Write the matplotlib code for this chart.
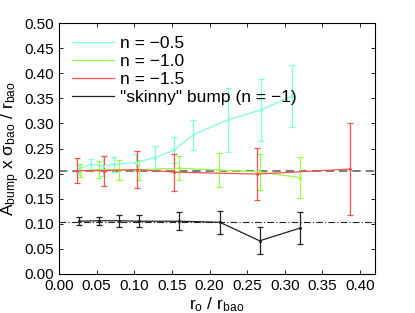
import numpy as np
import matplotlib
matplotlib.use('Agg')
from matplotlib import pyplot as plt
from matplotlib.lines import Line2D

plt.rcParams['font.family'] = ['Liberation Sans', 'DejaVu Sans']
plt.rcParams['mathtext.fontset'] = 'custom'
plt.rcParams['mathtext.rm'] = 'Liberation Sans'
plt.rcParams['mathtext.it'] = 'Liberation Sans'

# n = -0.5
x_a = [0.027, 0.043, 0.058, 0.073, 0.102, 0.128, 0.153, 0.178, 0.224, 0.268, 0.310]
y_a = [0.209, 0.219, 0.215, 0.219, 0.222, 0.232, 0.247, 0.277, 0.307, 0.327, 0.355]
e_a = [0.011, 0.011, 0.020, 0.015, 0.017, 0.023, 0.025, 0.029, 0.064, 0.062, 0.062]

# n = -1.0
x_b = [0.028, 0.0535, 0.080, 0.107, 0.160, 0.213, 0.267, 0.320]
y_b = [0.206, 0.208, 0.208, 0.208, 0.2105, 0.207, 0.203, 0.192]
e_b = [0.013, 0.017, 0.020, 0.020, 0.024, 0.034, 0.036, 0.041]

# n = -1.5
x_c = [0.0235, 0.060, 0.104, 0.153, 0.263, 0.386]
y_c = [0.206, 0.206, 0.208, 0.203, 0.199, 0.209]
e_c = [0.025, 0.030, 0.037, 0.037, 0.052, 0.092]

# skinny bump
x_d = [0.0265, 0.053, 0.080, 0.1065, 0.1595, 0.2135, 0.2666, 0.3196]
y_d = [0.105, 0.106, 0.106, 0.105, 0.105, 0.103, 0.066, 0.091]
e_d = [0.008, 0.008, 0.012, 0.012, 0.018, 0.023, 0.027, 0.032]

ref_a = 0.206
ref_d = 0.104

fig = plt.figure(figsize=(4.15, 3.13), dpi=100)
ax = fig.add_axes([0.142, 0.125, 0.762, 0.801])

ax.axhline(ref_a, color='#666666', ls=(0, (5, 3)), lw=1.2, zorder=1)
ax.axhline(ref_d, color='#222222', ls=(0, (6, 2, 1, 2)), lw=0.8, zorder=1)

series = [
    (x_a, y_a, e_a, '#80ffd8', 'n = \u22120.5'),
    (x_b, y_b, e_b, '#99ff44', 'n = \u22121.0'),
    (x_c, y_c, e_c, '#ff4f4f', 'n = \u22121.5'),
    (x_d, y_d, e_d, '#222222', '"skinny" bump (n = \u22121)'),
]
for x, y, e, c, lab in series:
    ax.errorbar(x, y, yerr=e, color=c, lw=0.9, elinewidth=0.9, capsize=2.5,
                capthick=0.9, marker='.', ms=2.5, label=lab, zorder=2)

ax.set_xlim(0, 0.42)
ax.set_ylim(0, 0.5)
ax.set_xticks(np.arange(0, 0.41, 0.05))
ax.set_yticks(np.arange(0, 0.51, 0.05))
ax.xaxis.set_major_formatter(matplotlib.ticker.FormatStrFormatter('%.2f'))
ax.yaxis.set_major_formatter(matplotlib.ticker.FormatStrFormatter('%.2f'))
ax.tick_params(direction='in', top=True, right=True, labelsize=11, length=3, width=0.6)
for s in ax.spines.values():
    s.set_linewidth(0.8)

ax.set_xlabel(r'$\mathregular{r_o\ /\ r_{bao}}$', fontsize=12.5, labelpad=2)
ax.set_ylabel(r'$\mathregular{A_{bump}\ x\ \sigma_{bao}\ /\ r_{bao}}$', fontsize=12.5, labelpad=2)

labels = [s[4] for s in series]
hs = [Line2D([], [], color=s[3], lw=0.9) for s in series]
ax.legend(hs, labels, loc='upper left', frameon=False, fontsize=12.5,
          handlelength=2.4, handletextpad=0.35, labelspacing=0.15,
          borderaxespad=0.35)

plt.savefig('out.png', dpi=100)
